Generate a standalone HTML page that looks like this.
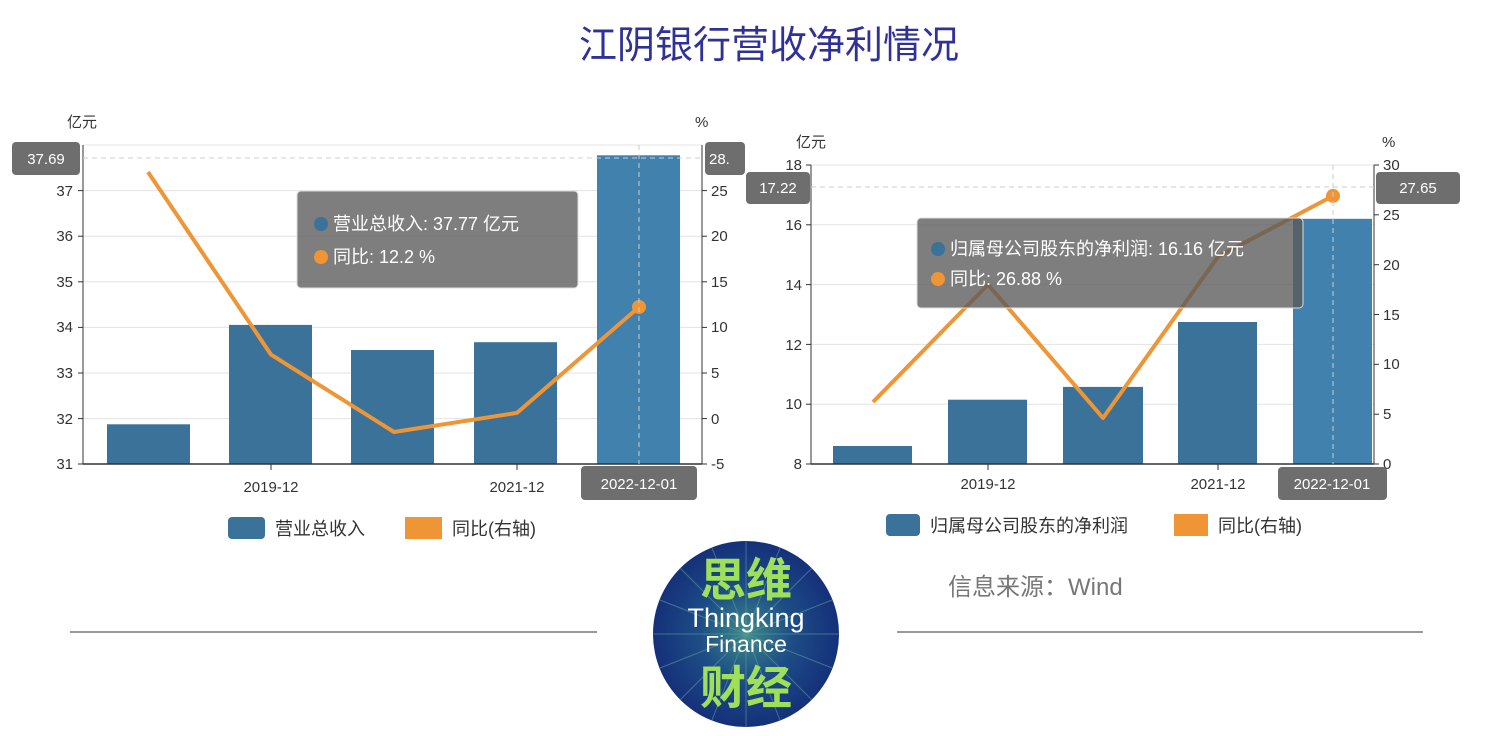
<!DOCTYPE html>
<html><head><meta charset="utf-8"><style>
html,body{margin:0;padding:0;background:#fff;}
svg{display:block;font-family:"Liberation Sans","Noto Sans CJK SC",sans-serif;}
</style></head><body>
<svg width="1489" height="736" viewBox="0 0 1489 736">
<defs>
<radialGradient id="lg" cx="50%" cy="50%" r="50%"><stop offset="0" stop-color="#3d8a8a"/><stop offset="0.5" stop-color="#1d4d86"/><stop offset="1" stop-color="#15307a"/></radialGradient>
</defs>
<text x="769" y="58" text-anchor="middle" font-size="38" fill="#2f3199">江阴银行营收净利情况</text>

<!-- LEFT CHART -->
<g font-size="15" fill="#333">
<g stroke="#e3e3e3" stroke-width="1">
<line x1="83" x2="702" y1="145" y2="145"/><line x1="83" x2="702" y1="190.6" y2="190.6"/><line x1="83" x2="702" y1="236.2" y2="236.2"/><line x1="83" x2="702" y1="281.8" y2="281.8"/><line x1="83" x2="702" y1="327.4" y2="327.4"/><line x1="83" x2="702" y1="373" y2="373"/><line x1="83" x2="702" y1="418.6" y2="418.6"/>
</g>
<g fill="#3a7299">
<rect x="107" y="424.3" width="83" height="39.7"/><rect x="229" y="324.9" width="83" height="139.1"/><rect x="351" y="350" width="83" height="114"/><rect x="474" y="342.2" width="83" height="121.8"/>
</g>
<rect x="597" y="155.3" width="83" height="308.7" fill="#4181ad"/>
<line x1="83" y1="145" x2="83" y2="464" stroke="#333"/><line x1="702" y1="145" x2="702" y2="464" stroke="#333"/>
<line x1="83" y1="464" x2="702" y2="464" stroke="#333" stroke-width="1.5"/>
<g stroke="#333"><line x1="78" x2="83" y1="190.6" y2="190.6"/><line x1="78" x2="83" y1="236.2" y2="236.2"/><line x1="78" x2="83" y1="281.8" y2="281.8"/><line x1="78" x2="83" y1="327.4" y2="327.4"/><line x1="78" x2="83" y1="373" y2="373"/><line x1="78" x2="83" y1="418.6" y2="418.6"/><line x1="78" x2="83" y1="464" y2="464"/>
<line x1="702" x2="707" y1="190.6" y2="190.6"/><line x1="702" x2="707" y1="236.2" y2="236.2"/><line x1="702" x2="707" y1="281.8" y2="281.8"/><line x1="702" x2="707" y1="327.4" y2="327.4"/><line x1="702" x2="707" y1="373" y2="373"/><line x1="702" x2="707" y1="418.6" y2="418.6"/><line x1="702" x2="707" y1="464" y2="464"/>
<line x1="271" x2="271" y1="464" y2="470"/><line x1="517" x2="517" y1="464" y2="470"/></g>
<g text-anchor="end"><text x="73" y="196">37</text><text x="73" y="241">36</text><text x="73" y="287">35</text><text x="73" y="332">34</text><text x="73" y="378">33</text><text x="73" y="424">32</text><text x="73" y="469">31</text></g>
<g><text x="711" y="196">25</text><text x="711" y="241">20</text><text x="711" y="287">15</text><text x="711" y="332">10</text><text x="711" y="378">5</text><text x="711" y="424">0</text><text x="711" y="469">-5</text></g>
<text x="67" y="127">亿元</text><text x="695" y="127">%</text>
<text x="271" y="492" text-anchor="middle">2019-12</text><text x="517" y="492" text-anchor="middle">2021-12</text>
<polyline points="148,172 271,354.6 394,432 517,412.9 639,307" fill="none" stroke="#ef9535" stroke-width="4" stroke-linejoin="round"/>
<circle cx="639" cy="307" r="7" fill="#ef9535"/>
<line x1="83" x2="702" y1="158" y2="158" stroke="#ccc" stroke-dasharray="5,4"/>
<line x1="639" x2="639" y1="145" y2="464" stroke="#ccc" stroke-dasharray="5,4"/>
<rect x="12" y="142" width="68" height="33" rx="4" fill="#6e6e6e"/><text x="46" y="164" text-anchor="middle" fill="#fff">37.69</text>
<rect x="705" y="142" width="40" height="33" rx="4" fill="#6e6e6e"/><text x="709" y="164" fill="#fff">28.</text>
<rect x="581" y="466" width="116" height="34" rx="4" fill="#6e6e6e"/><text x="639" y="489" text-anchor="middle" fill="#fff">2022-12-01</text>
<rect x="297" y="191" width="281" height="97" rx="4" fill="rgba(90,90,90,0.78)" stroke="#ddd"/>
<circle cx="321" cy="224" r="7" fill="#3a7299"/><text x="333" y="230" fill="#fff" font-size="18">营业总收入: 37.77 亿元</text>
<circle cx="321" cy="257" r="7" fill="#ef9535"/><text x="333" y="263" fill="#fff" font-size="18">同比: 12.2 %</text>
<rect x="228" y="517" width="37" height="22" rx="4" fill="#3a7299"/><text x="275" y="535" font-size="18">营业总收入</text>
<rect x="405" y="517" width="37" height="22" fill="#ef9535"/><text x="452" y="535" font-size="18">同比(右轴)</text>
</g>

<!-- RIGHT CHART -->
<g font-size="15" fill="#333">
<g stroke="#e3e3e3"><line x1="811" x2="1374" y1="165" y2="165"/><line x1="811" x2="1374" y1="224.8" y2="224.8"/><line x1="811" x2="1374" y1="284.6" y2="284.6"/><line x1="811" x2="1374" y1="344.4" y2="344.4"/><line x1="811" x2="1374" y1="404.2" y2="404.2"/></g>
<g fill="#3a7299"><rect x="833" y="446" width="79" height="18"/><rect x="948" y="399.7" width="79" height="64.3"/><rect x="1063" y="386.9" width="80" height="77.1"/><rect x="1178" y="322" width="79" height="142"/></g>
<rect x="1293" y="218.8" width="79" height="245.2" fill="#4181ad"/>
<line x1="811" y1="165" x2="811" y2="464" stroke="#333"/><line x1="1374" y1="165" x2="1374" y2="464" stroke="#333"/>
<line x1="811" y1="464" x2="1374" y2="464" stroke="#333" stroke-width="1.5"/>
<g stroke="#333"><line x1="806" x2="811" y1="165" y2="165"/><line x1="806" x2="811" y1="224.8" y2="224.8"/><line x1="806" x2="811" y1="284.6" y2="284.6"/><line x1="806" x2="811" y1="344.4" y2="344.4"/><line x1="806" x2="811" y1="404.2" y2="404.2"/><line x1="806" x2="811" y1="464" y2="464"/>
<line x1="1374" x2="1379" y1="165" y2="165"/><line x1="1374" x2="1379" y1="214.8" y2="214.8"/><line x1="1374" x2="1379" y1="264.7" y2="264.7"/><line x1="1374" x2="1379" y1="314.5" y2="314.5"/><line x1="1374" x2="1379" y1="364.3" y2="364.3"/><line x1="1374" x2="1379" y1="414.2" y2="414.2"/><line x1="1374" x2="1379" y1="464" y2="464"/>
<line x1="988" x2="988" y1="464" y2="470"/><line x1="1218" x2="1218" y1="464" y2="470"/></g>
<g text-anchor="end"><text x="802" y="170">18</text><text x="802" y="230">16</text><text x="802" y="290">14</text><text x="802" y="350">12</text><text x="802" y="409">10</text><text x="802" y="469">8</text></g>
<g><text x="1383" y="170">30</text><text x="1383" y="220">25</text><text x="1383" y="270">20</text><text x="1383" y="320">15</text><text x="1383" y="369">10</text><text x="1383" y="419">5</text><text x="1383" y="469">0</text></g>
<text x="796" y="147">亿元</text><text x="1382" y="147">%</text>
<text x="988" y="489" text-anchor="middle">2019-12</text><text x="1218" y="489" text-anchor="middle">2021-12</text>
<polyline points="873,402 988,284.6 1103,418 1218,256.7 1333,195.9" fill="none" stroke="#ef9535" stroke-width="4" stroke-linejoin="round"/>
<circle cx="1333" cy="195.9" r="7" fill="#ef9535"/>
<line x1="811" x2="1374" y1="187" y2="187" stroke="#ccc" stroke-dasharray="5,4"/>
<line x1="1333" x2="1333" y1="165" y2="464" stroke="#ccc" stroke-dasharray="5,4"/>
<rect x="746" y="172" width="64" height="32" rx="4" fill="#6e6e6e"/><text x="778" y="193" text-anchor="middle" fill="#fff">17.22</text>
<rect x="1376" y="172" width="84" height="32" rx="4" fill="#6e6e6e"/><text x="1418" y="193" text-anchor="middle" fill="#fff">27.65</text>
<rect x="1278" y="467" width="109" height="33" rx="4" fill="#6e6e6e"/><text x="1332" y="489" text-anchor="middle" fill="#fff">2022-12-01</text>
<rect x="917" y="218" width="386" height="90" rx="4" fill="rgba(90,90,90,0.78)" stroke="#ddd"/>
<circle cx="938" cy="249" r="7" fill="#3a7299"/><text x="950" y="255" fill="#fff" font-size="18">归属母公司股东的净利润: 16.16 亿元</text>
<circle cx="938" cy="279" r="7" fill="#ef9535"/><text x="950" y="285" fill="#fff" font-size="18">同比: 26.88 %</text>
<rect x="886" y="514" width="34" height="22" rx="4" fill="#3a7299"/><text x="930" y="532" font-size="18">归属母公司股东的净利润</text>
<rect x="1174" y="514" width="34" height="22" fill="#ef9535"/><text x="1218" y="532" font-size="18">同比(右轴)</text>
</g>

<text x="948" y="595" font-size="24" fill="#777">信息来源：Wind</text>
<line x1="70" x2="597" y1="632" y2="632" stroke="#333"/>
<line x1="897" x2="1423" y1="632" y2="632" stroke="#333"/>
<circle cx="746" cy="634" r="93" fill="url(#lg)"/>
<g stroke="#5c9a9a" stroke-width="1" opacity="0.6">
<line x1="653" y1="634" x2="839" y2="634"/><line x1="746" y1="541" x2="746" y2="727"/><line x1="680" y1="568" x2="812" y2="700"/><line x1="812" y1="568" x2="680" y2="700"/><line x1="660" y1="600" x2="832" y2="668"/><line x1="660" y1="668" x2="832" y2="600"/><line x1="712" y1="548" x2="780" y2="720"/><line x1="780" y1="548" x2="712" y2="720"/>
</g>
<text x="746" y="596" text-anchor="middle" font-size="46" fill="#9ee05a" font-weight="bold">思维</text>
<text x="746" y="627" text-anchor="middle" font-size="27" fill="#fff">Thingking</text>
<text x="746" y="652" text-anchor="middle" font-size="23" fill="#fff">Finance</text>
<text x="746" y="704" text-anchor="middle" font-size="46" fill="#9ee05a" font-weight="bold">财经</text>
</svg>
</body></html>
